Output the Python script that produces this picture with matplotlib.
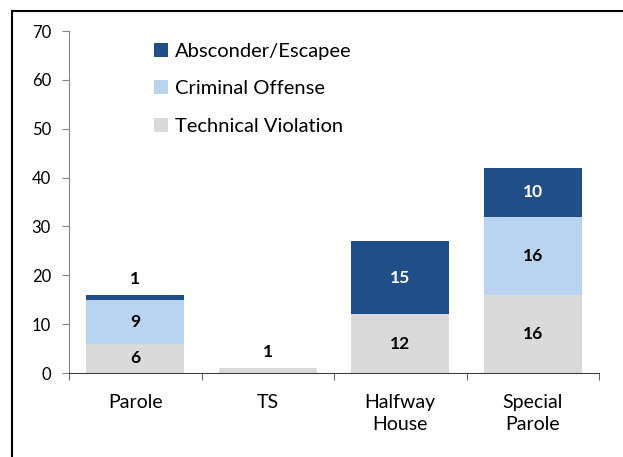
import matplotlib
matplotlib.use("Agg")
import matplotlib.pyplot as plt
import numpy as np
from matplotlib.lines import Line2D

plt.rcParams['font.family'] = ['Lato', 'DejaVu Sans']

categories = ["Parole", "TS", "Halfway\nHouse", "Special\nParole"]
technical = [6, 1, 12, 16]
criminal = [9, 0, 0, 16]
absconder = [1, 0, 15, 10]
yticks = [0, 10, 20, 30, 40, 50, 60, 70]

c_abs = "#1F4E89"
c_crim = "#B9D3F1"
c_tech = "#DADADA"

fig = plt.figure(figsize=(6.23, 4.57), dpi=100)
ax = fig.add_axes([69/623, 1-373/457, 530/623, 342/457])

x = np.arange(len(categories))
w = 0.74
tech = np.array(technical); crim = np.array(criminal); absc = np.array(absconder)
b1 = ax.bar(x, tech, w, color=c_tech, label="Technical Violation", zorder=2)
b2 = ax.bar(x, crim, w, bottom=tech, color=c_crim, label="Criminal Offense", zorder=2)
b3 = ax.bar(x, absc, w, bottom=tech+crim, color=c_abs, label="Absconder/Escapee", zorder=2)

totals = tech + crim + absc
for i in range(len(x)):
    segs = [(tech[i], 0, 'black'), (crim[i], tech[i], 'black'), (absc[i], tech[i]+crim[i], 'white')]
    for val, base, col in segs:
        if val == 0:
            continue
        if val >= 5:
            ax.text(x[i], base + val/2, str(val), ha='center', va='center',
                    fontsize=12.5, fontweight='bold', color=col, zorder=3)
        else:
            ax.text(x[i], totals[i] + 3.2, str(val), ha='center', va='center',
                    fontsize=12.5, fontweight='bold', color='black', zorder=3)

ax.set_xlim(-0.5, len(x) - 0.5)
ax.set_ylim(0, 70)
ax.set_yticks(yticks)
ax.set_yticklabels([str(t) for t in yticks], fontsize=12)
ax.set_xticks(x)
ax.set_xticklabels(categories, fontsize=14, linespacing=1.35)
ax.set_xticks(np.arange(len(x) + 1) - 0.5, minor=True)
ax.tick_params(axis='x', which='major', length=0, pad=15)
ax.tick_params(axis='x', which='minor', length=5, direction='out', color='#404040')
ax.tick_params(axis='y', length=5, direction='out', color='#868686', pad=8)

for s in ['top', 'right']:
    ax.spines[s].set_visible(False)
ax.spines['left'].set_color('#868686')
ax.spines['bottom'].set_color('#404040')

leg = fig.legend(handles=[b3, b2, b1], loc='upper left',
                 bbox_to_anchor=(136/623, 1-25/457), frameon=False,
                 fontsize=14.5, handlelength=0.7, handleheight=0.7,
                 handletextpad=0.35, labelspacing=1.0)

fig.add_artist(Line2D([12/623, 12/623], [0, 1-11/457], transform=fig.transFigure,
                      color='black', lw=1.5))
fig.add_artist(Line2D([12/623, 1], [1-11/457, 1-11/457], transform=fig.transFigure,
                      color='black', lw=1.5))

fig.savefig("out.png", dpi=100)
